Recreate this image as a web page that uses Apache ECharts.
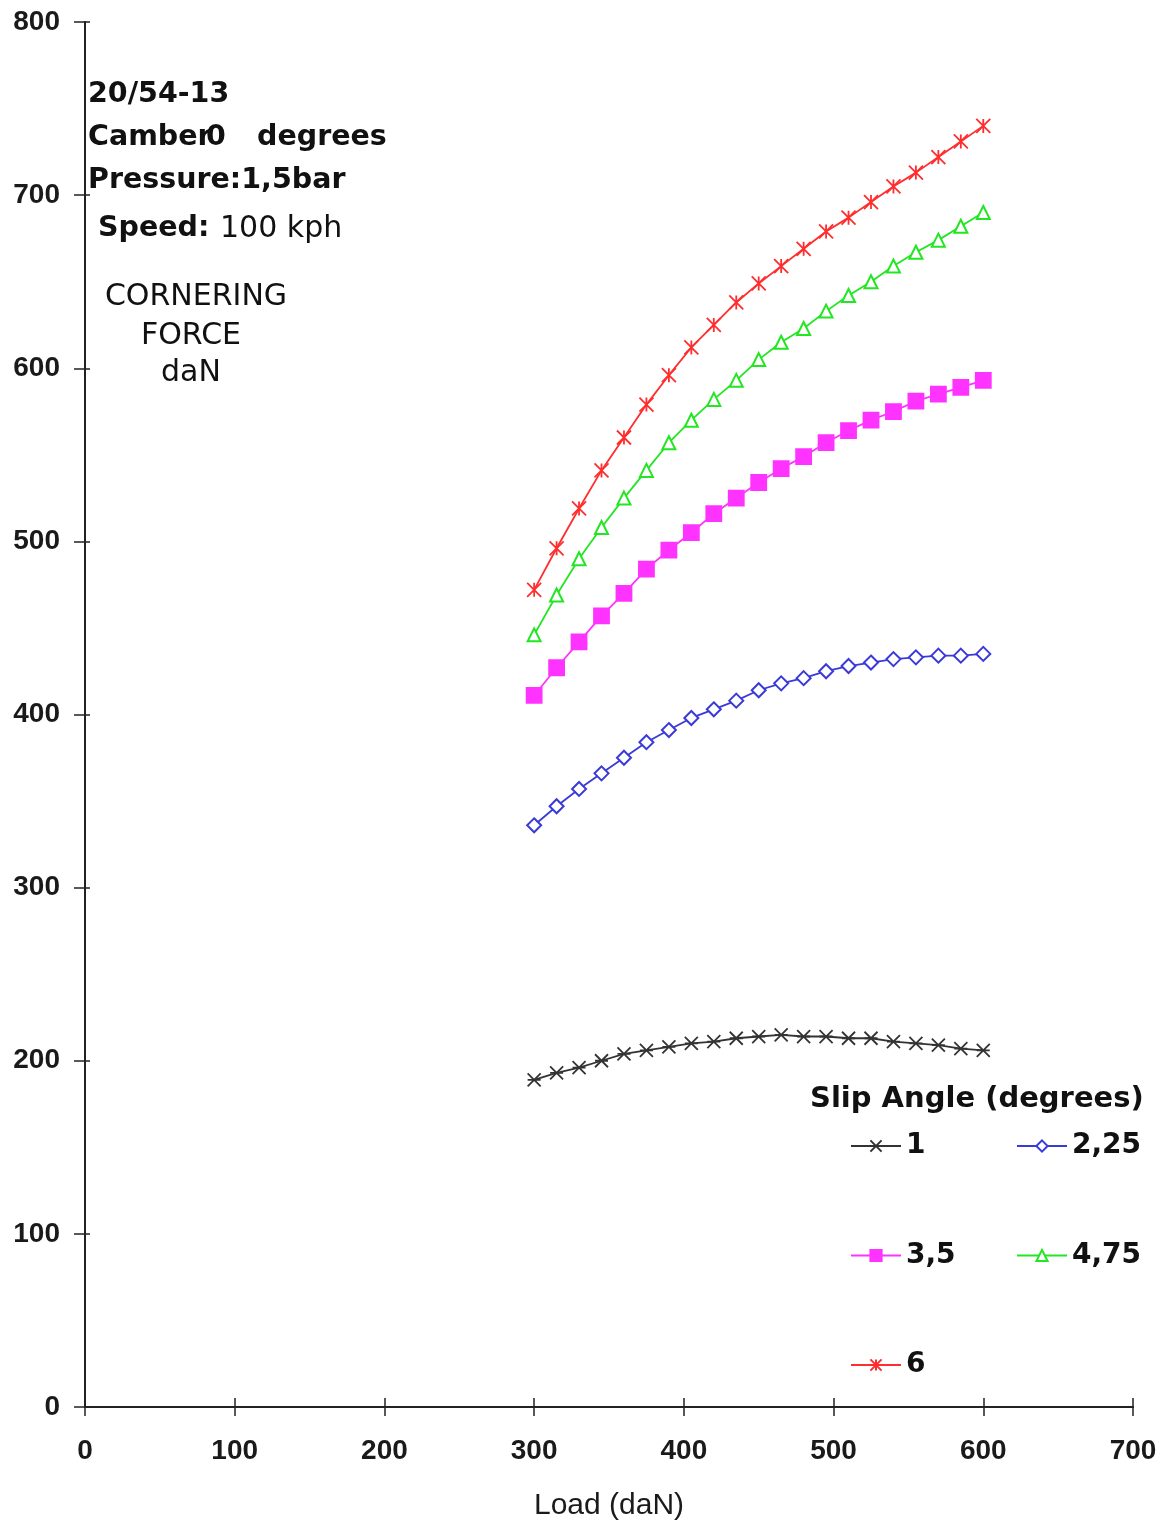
<!DOCTYPE html>
<html>
<head>
<meta charset="utf-8">
<script src="https://cdn.jsdelivr.net/npm/echarts@6/dist/echarts.min.js"></script>
<style>
html,body{margin:0;padding:0;background:#fff;}
#c{width:1170px;height:1526px;}
</style>
</head>
<body>
<div id="c"></div>
<script>
// Load values (daN)
var loads = [300,315,330,345,360,375,390,405,420,435,450,465,480,495,510,525,540,555,570,585,600];
// Cornering force (daN) per slip angle
var slip1    = [189,193,196,200,204,206,208,210,211,213,214,215,214,214,213,213,211,210,209,207,206];
var slip225  = [336,347,357,366,375,384,391,398,403,408,414,418,421,425,428,430,432,433,434,434,435];
var slip35   = [411,427,442,457,470,484,495,505,516,525,534,542,549,557,564,570,575,581,585,589,593];
var slip475  = [446,469,490,508,525,541,557,570,582,593,605,615,623,633,642,650,659,667,674,682,690];
var slip6    = [472,496,519,541,560,579,596,612,625,638,649,659,669,679,687,696,705,713,722,731,740];
var seriesNames = ['1','2,25','3,5','4,75','6'];

function pairs(v){ return loads.map(function(x,i){ return [x, v[i]]; }); }

var starPath = 'path://M0,0L10,10M10,0L0,10M5,0L5,10';
var crossPath = 'path://M0,0L10,10M10,0L0,10M0,5L10,5';

var chart = echarts.init(document.getElementById('c'), null, {renderer:'canvas'});
var axisColor = '#222';
var labelFont = {fontFamily:'Liberation Sans', fontSize:28, color:'#1a1a1a', fontWeight:'bold'};

function mkX(main){
  return {
    type:'value', min:0, max:700, interval:100, position:'bottom',
    axisLine:{show:true, onZero:false, lineStyle:{color:axisColor, width:2}},
    axisTick:{show:true, inside:!main, length:9, lineStyle:{color:axisColor, width:1.5}},
    axisLabel:{show:main, margin:30, fontFamily:labelFont.fontFamily, fontSize:labelFont.fontSize, fontWeight:labelFont.fontWeight, color:labelFont.color},
    splitLine:{show:false},
    name: main ? 'Load (daN)' : '',
    nameLocation:'middle', nameGap:84,
    nameTextStyle:{fontFamily:'Liberation Sans', fontSize:30, color:'#1a1a1a', verticalAlign:'top'}
  };
}
function mkY(main){
  return {
    type:'value', min:0, max:800, interval:100, position:'left',
    axisLine:{show:true, onZero:false, lineStyle:{color:axisColor, width:2}},
    axisTick:{show:true, inside:!main, length: main ? 11 : 5, lineStyle:{color:axisColor, width:1.5}},
    axisLabel:{show:main, margin:25, fontFamily:labelFont.fontFamily, fontSize:labelFont.fontSize, fontWeight:labelFont.fontWeight, color:labelFont.color},
    splitLine:{show:false}
  };
}

function mkSeries(name, data, color, symbol, size){
  return {
    name:name, type:'line', data:pairs(data),
    xAxisIndex:0, yAxisIndex:0,
    symbol:symbol, symbolSize:size, showAllSymbol:true,
    lineStyle:{color:color, width:1.8},
    itemStyle:{color:color, borderColor:color, borderWidth:1.8},
    emphasis:{disabled:true},
    animation:false
  };
}

var legendText = {fontFamily:'DejaVu Sans', fontWeight:'bold', fontSize:28, color:'#111'};

var option = {
  backgroundColor:'#fff',
  animation:false,
  grid:{left:85, right:37, top:22, bottom:119, containLabel:false},
  xAxis:[mkX(true), mkX(false)],
  yAxis:[mkY(true), mkY(false)],
  legend:[
    {data:['1','3,5','6'], orient:'vertical', left:845, top:1127, itemWidth:50, itemHeight:14, itemGap:81.5, textStyle:legendText, selectedMode:false},
    {data:['2,25','4,75'], orient:'vertical', left:1011, top:1127, itemWidth:50, itemHeight:14, itemGap:81.5, textStyle:legendText, selectedMode:false}
  ],
  series:[
    mkSeries(seriesNames[0], slip1, '#333333', crossPath, 13),
    mkSeries(seriesNames[1], slip225, '#3a3ad8', 'emptyDiamond', 14),
    mkSeries(seriesNames[2], slip35, '#ff33ff', 'rect', 15),
    mkSeries(seriesNames[3], slip475, '#22e622', 'emptyTriangle', 13),
    mkSeries(seriesNames[4], slip6, '#ff2e2e', starPath, 14)
  ]
};
var texts = [
  {t:'20/54-13', x:88, y:95, w:'bold', s:28.5, a:'left'},
  {t:'Camber', x:88, y:138, w:'bold', s:28.5, a:'left'},
  {t:'0', x:206, y:138, w:'bold', s:28.5, a:'left'},
  {t:'degrees', x:257, y:138, w:'bold', s:28.5, a:'left'},
  {t:'Pressure:1,5bar', x:88, y:181, w:'bold', s:28.5, a:'left'},
  {t:'Speed:', x:98, y:229, w:'bold', s:28.5, a:'left'},
  {t:'100 kph', x:220, y:229, w:'normal', s:30, a:'left'},
  {t:'CORNERING', x:196, y:297, w:'normal', s:30, a:'center'},
  {t:'FORCE', x:191, y:336, w:'normal', s:30, a:'center'},
  {t:'daN', x:191, y:373, w:'normal', s:30, a:'center'},
  {t:'Slip Angle (degrees)', x:810, y:1099, w:'bold', s:29, a:'left'}
];
option.graphic = texts.map(function(o){
  return {type:'text', x:o.x, y:o.y, silent:true,
    style:{text:o.t, font:o.w + ' ' + o.s + 'px "DejaVu Sans"', fill:'#111', align:o.a, verticalAlign:'middle'}};
});
chart.setOption(option);
</script>
</body>
</html>
